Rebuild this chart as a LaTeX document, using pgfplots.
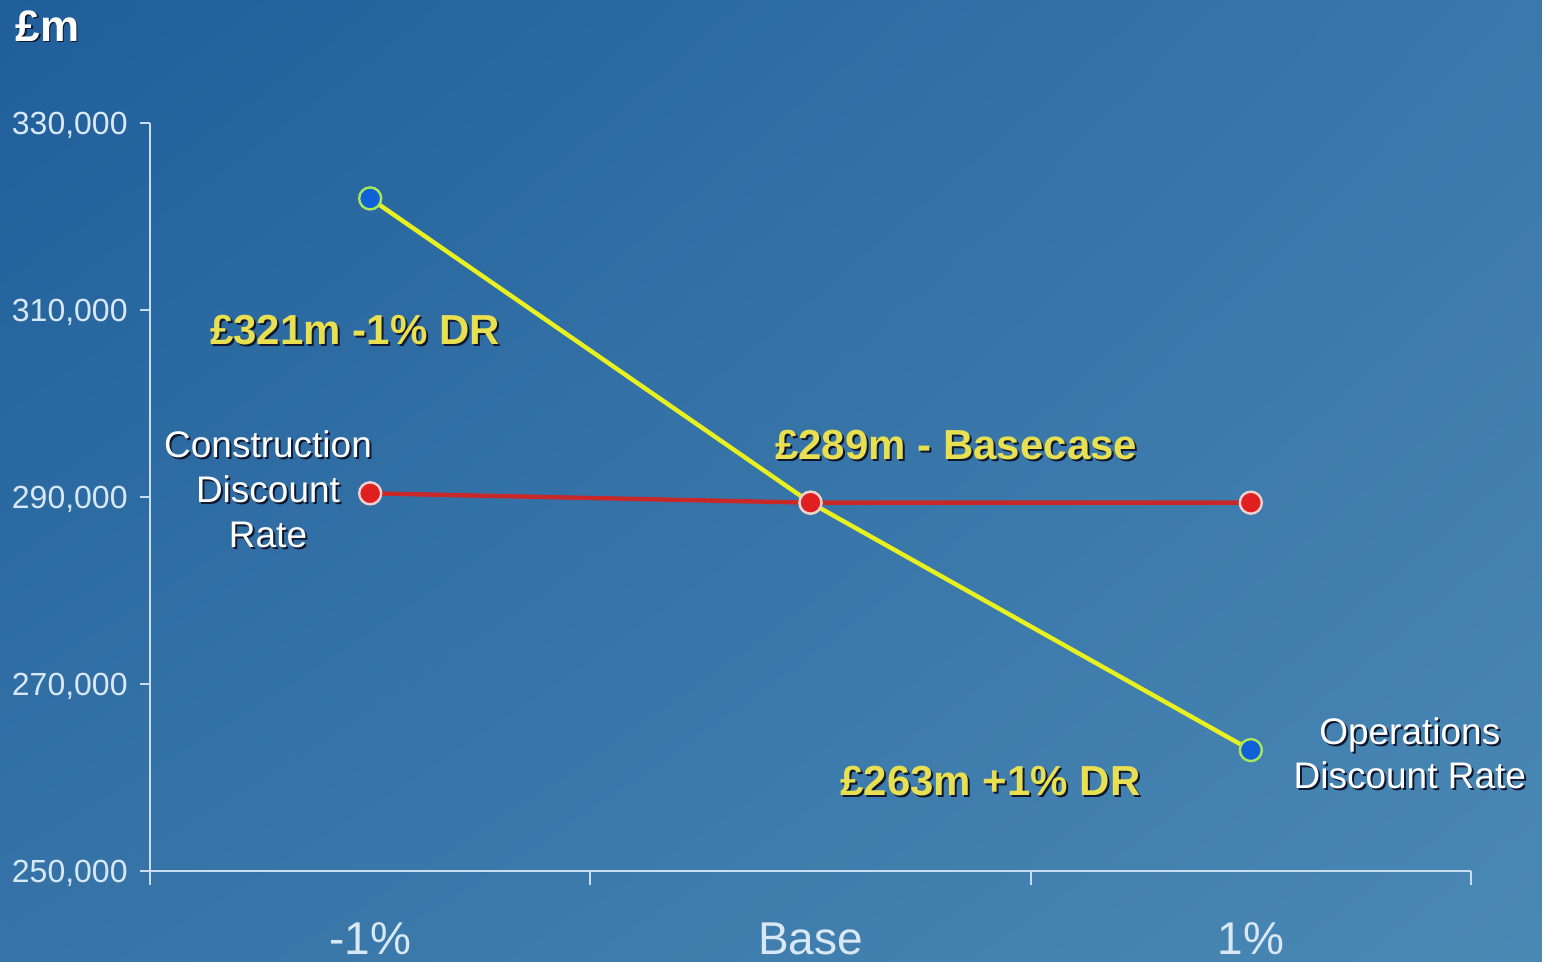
\documentclass[border=0pt]{standalone}
\usepackage{pgfplots}
\pgfplotsset{compat=1.18}
\usepackage{fontspec}
\setmainfont{Liberation Sans}
\usetikzlibrary{shadings}
\definecolor{bgTL}{HTML}{1F5E9A}
\definecolor{bgTR}{HTML}{3B78AB}
\definecolor{bgBL}{HTML}{3674A8}
\definecolor{bgBR}{HTML}{4A88B4}
\definecolor{axiscol}{HTML}{C8DEF0}
\definecolor{tickcol}{HTML}{D8E8F5}
\definecolor{ylw}{HTML}{E8F020}
\definecolor{ylwtext}{HTML}{E8E050}
\definecolor{redl}{HTML}{C82828}
\definecolor{redm}{HTML}{E02020}
\definecolor{redo}{HTML}{F0D0D0}
\definecolor{bluem}{HTML}{1060D8}
\definecolor{greeno}{HTML}{A8E858}
\definecolor{shadow}{HTML}{101830}
\begin{document}
\begin{tikzpicture}
\shade[upper left=bgTL, upper right=bgTR, lower left=bgBL, lower right=bgBR] (0,0) rectangle (771pt,481pt);
\path[use as bounding box] (0,0) rectangle (771pt,481pt);
\begin{axis}[
  at={(75pt,45.65pt)}, anchor=south west,
  scale only axis, width=660.5pt, height=374pt,
  xmin=0, xmax=3, ymin=250000, ymax=330000,
  enlargelimits=false, clip=false,
  scaled y ticks=false,
  axis x line=bottom, axis y line=left,
  axis line style={-, color=axiscol, line width=1pt},
  tick align=outside,
  xtick={0.5,1.5,2.5},
  xticklabels={-1\%, Base, 1\%},
  minor xtick={0,1,2,3},
  major x tick style={draw=none},
  minor x tick style={color=axiscol, line width=1pt},
  minor tick length=7pt,
  major tick length=5pt,
  ytick={250000,270000,290000,310000,330000},
  yticklabels={{250,000},{270,000},{290,000},{310,000},{330,000}},
  y tick style={color=axiscol, line width=1pt},
  xticklabel style={font=\fontsize{23}{27}\selectfont, color=tickcol, anchor=base, inner sep=0pt, yshift=-37pt},
  yticklabel style={font=\fontsize{16}{19}\selectfont, color=tickcol, anchor=base east, inner sep=0pt, xshift=-6pt, yshift=-5.8pt},
]
\addplot[color=ylw, line width=2.2pt, mark=*, mark size=5.5pt,
  mark options={fill=bluem, draw=greeno, line width=1.2pt}]
  coordinates {(0.5,321900) (1.5,289360) (2.5,262900)};
\addplot[color=redl, line width=2.2pt, mark=*, mark size=5.5pt,
  mark options={fill=redm, draw=redo, line width=1.2pt}]
  coordinates {(0.5,290360) (1.5,289360) (2.5,289360)};

% labels with shadow
\node[anchor=north west, inner sep=0pt, color=shadow, xshift=0.8pt, yshift=-0.8pt, font=\bfseries\fontsize{22}{26}\selectfont] at (rel axis cs:-0.102,1.1507) {£m};
\node[anchor=north west, inner sep=0pt, color=white, font=\bfseries\fontsize{22}{26}\selectfont] at (rel axis cs:-0.102,1.1507) {£m};

\node[anchor=base west, inner sep=0pt, color=shadow, xshift=1pt, yshift=-1pt, font=\bfseries\fontsize{21}{25}\selectfont] at (axis cs:0.136,306330) {£321m -1\% DR};
\node[anchor=base west, inner sep=0pt, color=ylwtext, font=\bfseries\fontsize{21}{25}\selectfont] at (axis cs:0.136,306330) {£321m -1\% DR};

\node[anchor=base west, inner sep=0pt, color=shadow, xshift=1pt, yshift=-1pt, font=\bfseries\fontsize{21}{25}\selectfont] at (axis cs:1.419,294030) {£289m - Basecase};
\node[anchor=base west, inner sep=0pt, color=ylwtext, font=\bfseries\fontsize{21}{25}\selectfont] at (axis cs:1.419,294030) {£289m - Basecase};

\node[anchor=base west, inner sep=0pt, color=shadow, xshift=1pt, yshift=-1pt, font=\bfseries\fontsize{21}{25}\selectfont] at (axis cs:1.567,257990) {£263m +1\% DR};
\node[anchor=base west, inner sep=0pt, color=ylwtext, font=\bfseries\fontsize{21}{25}\selectfont] at (axis cs:1.567,257990) {£263m +1\% DR};

\node[anchor=north, inner sep=0pt, align=center, color=shadow, xshift=1pt, yshift=-1pt, font=\fontsize{18.5}{22.5}\selectfont] at (axis cs:0.268,297130) {Construction\\Discount\\Rate};
\node[anchor=north, inner sep=0pt, align=center, color=white, font=\fontsize{18.5}{22.5}\selectfont] at (axis cs:0.268,297130) {Construction\\Discount\\Rate};

\node[anchor=north, inner sep=0pt, align=center, color=shadow, xshift=1pt, yshift=-1pt, font=\fontsize{18.5}{22}\selectfont] at (axis cs:2.861,266440) {Operations\\Discount Rate};
\node[anchor=north, inner sep=0pt, align=center, color=white, font=\fontsize{18.5}{22}\selectfont] at (axis cs:2.861,266440) {Operations\\Discount Rate};
\end{axis}
\end{tikzpicture}
\end{document}
